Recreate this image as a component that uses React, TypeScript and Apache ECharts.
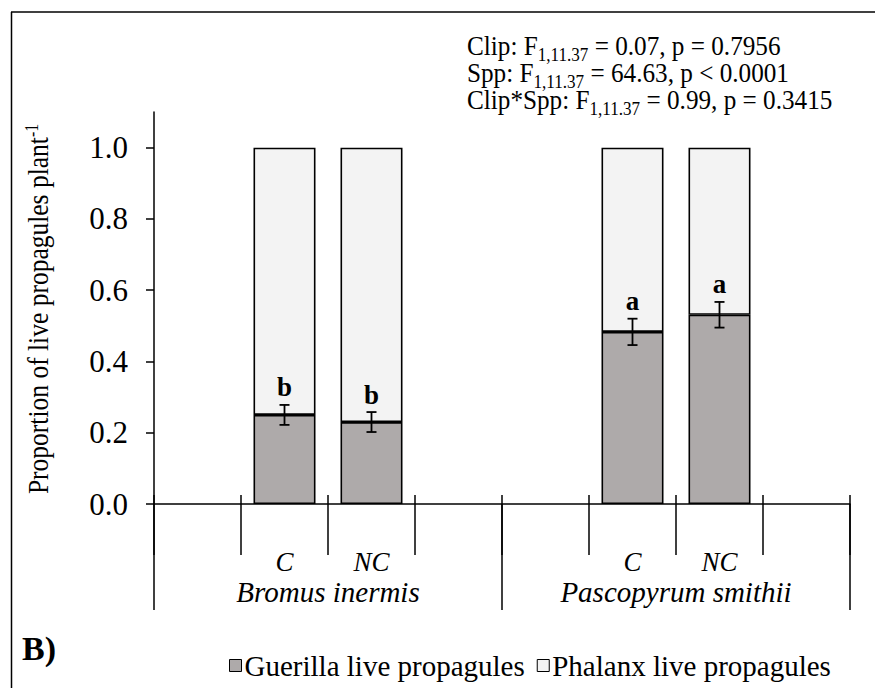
import React, { useEffect, useRef } from "react";
import * as echarts from "echarts";

const slots = ["", "C", "NC", "", "", "C", "NC", ""];
const species = ["Bromus inermis", "Pascopyrum smithii"];
const seriesNames = ["Guerilla live propagules", "Phalanx live propagules"];
const guerilla = [null, 0.25, 0.23, null, null, 0.483, 0.531, null];
const phalanx = [null, 0.75, 0.77, null, null, 0.517, 0.469, null];
const errors = [null, 0.028, 0.028, null, null, 0.037, 0.036, null];
const letters = ["", "b", "b", "", "", "a", "a", ""];
const yTicks = [0, 0.2, 0.4, 0.6, 0.8, 1.0];
const statLines = [
  ["Clip: F", "1,11.37", " = 0.07, p = 0.7956"],
  ["Spp: F", "1,11.37", " = 64.63, p < 0.0001"],
  ["Clip*Spp: F", "1,11.37", " = 0.99, p = 0.3415"],
];

const FONT = '"Liberation Serif", "Times New Roman", serif';

export default function App() {
  const ref = useRef<HTMLDivElement>(null);
  useEffect(() => {
    const chart = echarts.init(ref.current!, null, { renderer: "svg" });
    const errData: any[] = [];
    guerilla.forEach((v, i) => {
      if (v != null) errData.push([i, v, errors[i], letters[i]]);
    });
    const option: any = {
      animation: false,
      backgroundColor: "#fff",
      grid: { left: 154, right: 25, top: 112, bottom: 184, containLabel: false },
      legend: {
        data: seriesNames,
        left: 224,
        top: 646,
        icon: "rect",
        itemWidth: 12,
        itemHeight: 12,
        itemGap: 12,
        itemStyle: { borderWidth: 1, borderColor: "#000" },
        textStyle: { fontSize: 29, fontFamily: FONT, color: "#000", padding: [0, 0, 0, -2] },
      },
      xAxis: [
        {
          type: "category",
          data: slots,
          position: "bottom",
          axisLine: { show: true, lineStyle: { color: "#000", width: 1.5 } },
          axisTick: { show: true, interval: 0, length: 51, lineStyle: { color: "#000", width: 1.5 } },
          axisLabel: {
            interval: 0,
            fontStyle: "italic",
            fontSize: 27,
            lineHeight: 22,
            fontFamily: FONT,
            color: "#000",
            margin: 47,
          },
        },
        {
          type: "category",
          data: slots,
          position: "bottom",
          axisLine: { show: false },
          axisTick: { show: true, inside: true, interval: 0, length: 9, lineStyle: { color: "#000", width: 1.5 } },
          axisLabel: { show: false },
        },
        {
          type: "category",
          data: species,
          position: "bottom",
          axisLine: { show: false },
          axisTick: { show: true, interval: 0, length: 106, lineStyle: { color: "#000", width: 1.5 } },
          axisLabel: {
            interval: 0,
            fontStyle: "italic",
            fontSize: 29,
            lineHeight: 22,
            fontFamily: FONT,
            color: "#000",
            margin: 77,
          },
        },
      ],
      yAxis: {
        type: "value",
        min: 0,
        max: 1.1,
        interval: 0.1,
        axisLine: { show: true, lineStyle: { color: "#000", width: 1.5 } },
        axisTick: {
          show: true,
          length: 8,
          customValues: yTicks,
          lineStyle: { color: "#000", width: 1.5 },
        },
        axisLabel: {
          customValues: yTicks,
          formatter: (v: number) => v.toFixed(1),
          fontSize: 31,
          fontFamily: FONT,
          color: "#000",
          margin: 26,
        },
        splitLine: { show: false },
      },
      series: [
        {
          name: seriesNames[0],
          type: "bar",
          stack: "s",
          xAxisIndex: 0,
          barWidth: 62,
          data: guerilla.map((v) => (v == null ? "-" : v)),
          itemStyle: { color: "#aeaaaa", borderColor: "#000", borderWidth: 1.6 },
        },
        {
          name: seriesNames[1],
          type: "bar",
          stack: "s",
          xAxisIndex: 0,
          barWidth: 62,
          data: phalanx.map((v) => (v == null ? "-" : v)),
          itemStyle: { color: "#f3f3f3", borderColor: "#000", borderWidth: 1.6 },
        },
        {
          type: "custom",
          xAxisIndex: 0,
          z: 10,
          data: errData,
          renderItem: (params: any, api: any) => {
            const d = errData[params.dataIndex];
            const i = d[0];
            const v = d[1];
            const e = d[2];
            const top = api.coord([i, v + e]);
            const bot = api.coord([i, v - e]);
            const x = top[0];
            const cap = 5;
            const ls = { stroke: "#000", lineWidth: 1.8 };
            return {
              type: "group",
              children: [
                { type: "line", shape: { x1: x, y1: top[1], x2: x, y2: bot[1] }, style: ls },
                { type: "line", shape: { x1: x - cap, y1: top[1], x2: x + cap, y2: top[1] }, style: ls },
                { type: "line", shape: { x1: x - cap, y1: bot[1], x2: x + cap, y2: bot[1] }, style: ls },
                {
                  type: "text",
                  x: x,
                  y: top[1] - 4,
                  style: {
                    text: d[3],
                    align: "center",
                    verticalAlign: "bottom",
                    font: `bold 27px ${FONT}`,
                    fill: "#000",
                  },
                },
              ],
            };
          },
        },
      ],
      graphic: [
        { type: "line", shape: { x1: 11, y1: 12, x2: 875, y2: 12 }, style: { stroke: "#000", lineWidth: 1.5 } },
        { type: "line", shape: { x1: 11.5, y1: 12, x2: 11.5, y2: 688 }, style: { stroke: "#000", lineWidth: 1.5 } },
        ...statLines.map((l, k) => ({
          type: "text",
          x: 467,
          y: 32 + k * 27,
          scaleX: 0.9,
          style: {
            text: `{n|${l[0]}}{s|${l[1]}}{n|${l[2]}}`,
            rich: {
              n: { fontSize: 28, lineHeight: 27, verticalAlign: "top", fontFamily: FONT, fill: "#000" },
              s: { fontSize: 19, lineHeight: 14, verticalAlign: "top", padding: [13, 0, 0, 0], fontFamily: FONT, fill: "#000" },
            },
            fill: "#000",
          },
        })),
        {
          type: "text",
          x: 38,
          y: 309,
          rotation: Math.PI / 2,
          scaleX: 0.88,
          style: {
            text: "{n|Proportion of live propagules plant}{s|-1}",
            align: "center",
            verticalAlign: "middle",
            rich: {
              n: { fontSize: 29, lineHeight: 29, verticalAlign: "bottom", fontFamily: FONT, fill: "#000" },
              s: { fontSize: 18, lineHeight: 18, verticalAlign: "top", padding: [0, 0, 11, 0], fontFamily: FONT, fill: "#000" },
            },
            fill: "#000",
          },
        },
        {
          type: "text",
          x: 22,
          y: 648,
          style: { text: "B)", font: `bold 34px ${FONT}`, fill: "#000", verticalAlign: "middle" },
        },
      ],
    };
    chart.setOption(option);
    return () => chart.dispose();
  }, []);
  return (
    <div
      ref={ref}
      style={{ position: "fixed", left: 0, top: 0, width: 875, height: 688 }}
    />
  );
}
